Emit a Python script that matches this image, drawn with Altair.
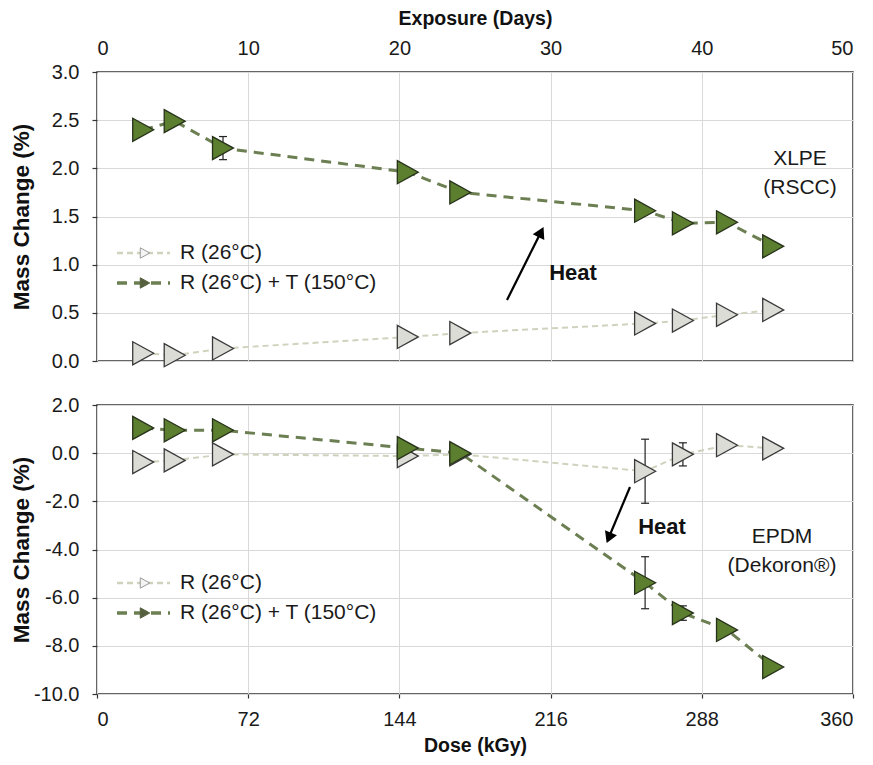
import altair as alt
import pandas as pd

# Sampling points: irradiation dose in kGy (7.2 kGy per day of exposure)
dose_kgy = [22, 37, 60, 148, 173, 261, 279, 300, 322]

# XLPE (RSCC) mass change, %
xlpe_r = [0.08, 0.06, 0.13, 0.25, 0.29, 0.39, 0.42, 0.48, 0.53]
xlpe_r_err = [0, 0, 0, 0, 0, 0, 0, 0, 0]
xlpe_rt = [2.40, 2.49, 2.21, 1.96, 1.75, 1.56, 1.43, 1.44, 1.19]
xlpe_rt_err = [0, 0, 0.12, 0, 0, 0, 0, 0, 0]

# EPDM (Dekoron) mass change, %
epdm_r = [-0.37, -0.30, -0.05, -0.12, -0.05, -0.75, -0.05, 0.33, 0.20]
epdm_r_err = [0, 0, 0, 0, 0, 1.33, 0.48, 0, 0]
epdm_rt = [1.05, 0.95, 0.95, 0.21, 0.00, -5.38, -6.64, -7.34, -8.88]
epdm_rt_err = [0, 0, 0, 0, 0, 1.08, 0.30, 0, 0]

dose_ticks = [0, 72, 144, 216, 288, 360]
xlpe_ticks = [0.0, 0.5, 1.0, 1.5, 2.0, 2.5, 3.0]
epdm_ticks = [-10, -8, -6, -4, -2, 0, 2]
series_names = ["R (26°C)", "R (26°C) + T (150°C)"]

W, H = 756, 289
FONT = "Liberation Sans"
TRI = "M-1,-1.1L1,0L-1,1.1Z"

STYLE = {
    series_names[0]: dict(line="#cfd3bd", width=2.0, dash=[6, 4],
                          fill="#dcdcd7", stroke="#3a3a3a",
                          key_fill="#f4f4f4", key_stroke="#9a9a9a"),
    series_names[1]: dict(line="#6c7f52", width=3.0, dash=[10, 7],
                          fill="#5b7e2f", stroke="#27321a",
                          key_fill="#56603f", key_stroke="#56603f"),
}


def series_frame(r, r_err, rt, rt_err):
    rows = []
    for name, vals, errs in zip(series_names, [r, rt], [r_err, rt_err]):
        for d, v, e in zip(dose_kgy, vals, errs):
            rows.append(dict(dose=d, value=v, err=e, lo=v - e, hi=v + e, series=name))
    return pd.DataFrame(rows)


def one(label):
    return alt.Chart(pd.DataFrame({"label": [label]}))


def panel(df, ydomain, yticks, top, notes, heat, arrow):
    if top:
        xaxis = alt.Axis(orient="top", values=dose_ticks,
                         labelExpr="format(round(datum.value/7.2),'d')",
                         title="Exposure (Days)", tickSize=0, labelPadding=24,
                         labelBaseline="middle", titleY=-48, titleBaseline="alphabetic")
    else:
        xaxis = alt.Axis(orient="bottom", values=dose_ticks, format="d",
                         title="Dose (kGy)", tickSize=4, labelPadding=21,
                         labelBaseline="middle", titleY=57, titleBaseline="alphabetic")
    X = alt.X("dose:Q", scale=alt.Scale(domain=[0, 360], nice=False, zero=False), axis=xaxis)
    yaxis = alt.Axis(values=yticks,
                     labelExpr="replace(format(datum.value,'.1f'),'\u2212','-')",
                     title="Mass Change (%)", titleFontSize=22.5, tickSize=5,
                     labelPadding=13, titleX=-64, titleY=H / 2)
    yscale = alt.Scale(domain=ydomain, nice=False, zero=False)

    def Y(field):
        return alt.Y(f"{field}:Q", scale=yscale, axis=yaxis)

    layers = []
    # dashed connecting lines
    for name in series_names:
        s = STYLE[name]
        layers.append(
            alt.Chart(df).transform_filter(alt.datum.series == name)
            .mark_line(color=s["line"], strokeWidth=s["width"], strokeDash=s["dash"])
            .encode(x=X, y=Y("value"), order="dose:Q")
        )
    # error bars
    eb = alt.Chart(df).transform_filter("datum.err > 0")
    layers.append(eb.mark_rule(color="#222222", strokeWidth=1.2)
                  .encode(x=X, y=Y("lo"), y2="hi:Q"))
    for f in ["lo", "hi"]:
        layers.append(eb.mark_point(shape="M-1,0L1,0", size=64, stroke="#222222",
                                    strokeWidth=1.2, filled=False, opacity=1)
                      .encode(x=X, y=Y(f)))
    # markers
    for name in series_names:
        s = STYLE[name]
        layers.append(
            alt.Chart(df).transform_filter(alt.datum.series == name)
            .mark_point(shape=TRI, size=440, filled=True, fill=s["fill"], stroke=s["stroke"],
                        strokeWidth=1.3, opacity=1, fillOpacity=1, strokeOpacity=1)
            .encode(x=X, y=Y("value"))
        )

    # in-plot key
    ly0 = notes["legend_y"]
    for i, name in enumerate(series_names):
        s = STYLE[name]
        ly = ly0 + 30 * i
        c = one(name)
        layers.append(c.mark_rule(color=s["line"], strokeWidth=s["width"] + 0.5,
                                  strokeDash=s["dash"])
                      .encode(x=alt.value(20), x2=alt.value(73), y=alt.value(ly)))
        layers.append(c.mark_point(shape=TRI, size=90, filled=True, fill=s["key_fill"],
                                   stroke=s["key_stroke"], strokeWidth=1, opacity=1)
                      .encode(x=alt.value(48), y=alt.value(ly)))
        layers.append(c.mark_text(font=FONT, fontSize=21, align="left", baseline="middle",
                                  color="#1a1a1a")
                      .encode(text="label:N", x=alt.value(83), y=alt.value(ly)))

    # material label
    for j, t in enumerate(notes["material"]):
        layers.append(one(t).mark_text(font=FONT, fontSize=21, align="center",
                                       baseline="middle", color="#1a1a1a")
                      .encode(text="label:N", x=alt.value(notes["mx"]),
                              y=alt.value(notes["my"] + 29 * j)))

    # heat arrow
    (x1, y1), (x2, y2), (hx, hy), ang = arrow
    layers.append(one("arrow").mark_rule(color="#000000", strokeWidth=2.2)
                  .encode(x=alt.value(x1), y=alt.value(y1), x2=alt.value(x2), y2=alt.value(y2)))
    layers.append(one("head").mark_point(shape="triangle-up", size=90, filled=True,
                                         fill="#000000", stroke="#000000", opacity=1,
                                         angle=ang)
                  .encode(x=alt.value(hx), y=alt.value(hy)))
    layers.append(one("Heat").mark_text(font=FONT, fontSize=22, fontWeight="bold",
                                        align="center", baseline="middle", color="#111111")
                  .encode(text="label:N", x=alt.value(heat[0]), y=alt.value(heat[1])))

    return alt.layer(*layers).properties(width=W, height=H)


top = panel(
    series_frame(xlpe_r, xlpe_r_err, xlpe_rt, xlpe_rt_err),
    [0, 3], xlpe_ticks, True,
    dict(legend_y=181, material=["XLPE", "(RSCC)"], mx=703, my=87),
    (476, 201),
    ((410, 228), (443, 162), (443.8, 160.5), 26.6),
)
bottom = panel(
    series_frame(epdm_r, epdm_r_err, epdm_rt, epdm_rt_err),
    [-10, 2], epdm_ticks, False,
    dict(legend_y=178, material=["EPDM", "(Dekoron®)"], mx=685, my=132),
    (565, 122),
    ((533, 82), (512, 132), (512, 132.4), 202.7),
)

chart = alt.vconcat(top, bottom, spacing=44, bounds="flush").properties(
    padding={"left": 9, "top": 7, "right": 0, "bottom": 0},
).configure_view(
    stroke="#333333", strokeWidth=1.5
).configure_axis(
    domain=False,
    labelFont=FONT, labelFontSize=20, labelColor="#1a1a1a",
    titleFont=FONT, titleFontSize=19.5, titleFontWeight="bold", titleColor="#111111",
    gridColor="#d9d9d9", gridWidth=1, tickColor="#333333", tickWidth=1.2,
)

chart.save("out.html", embed_options={"renderer": "svg", "actions": False})
